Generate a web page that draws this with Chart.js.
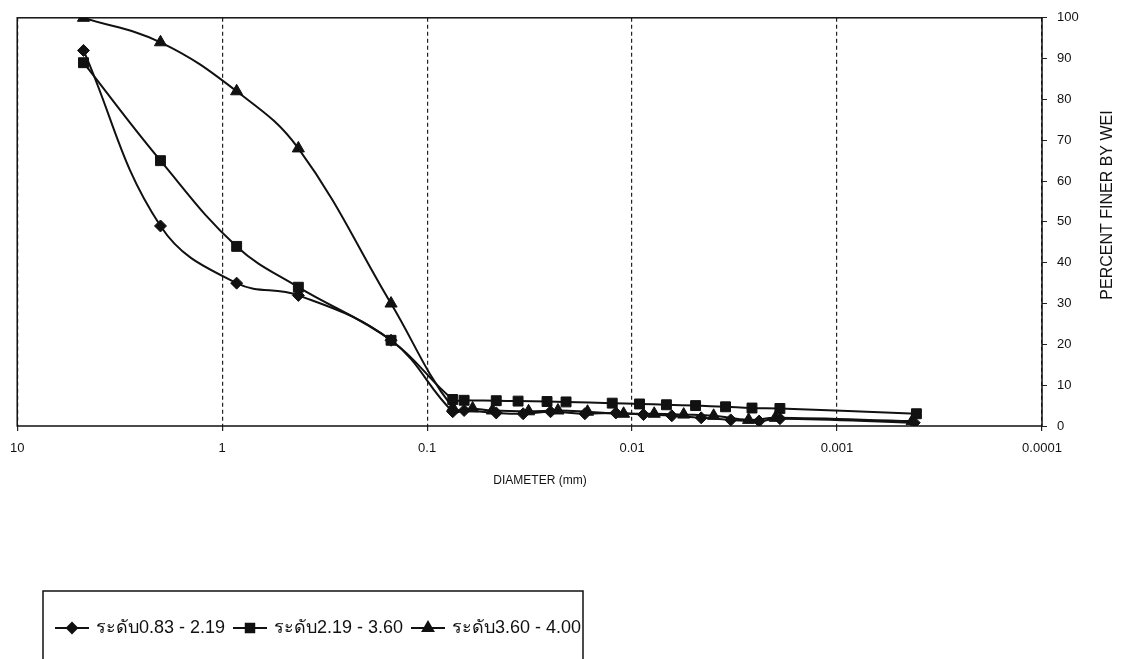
<!DOCTYPE html>
<html>
<head>
<meta charset="utf-8">
<script src="https://cdn.jsdelivr.net/npm/chart.js@4/dist/chart.umd.min.js"></script>
<style>
  html, body { margin: 0; padding: 0; background: #fff; overflow: hidden; }
  #wrap { position: relative; width: 1123px; height: 659px; }
</style>
</head>
<body>
<div id="wrap"><canvas id="c" width="1123" height="659"></canvas></div>
<script>
// Grain-size distribution: particle diameter (mm) vs percent finer by weight
const seriesNames = ['ระดับ0.83 - 2.19', 'ระดับ2.19 - 3.60', 'ระดับ3.60 - 4.00'];

const diam083 = [4.75, 2.0, 0.85, 0.425, 0.15, 0.075, 0.066, 0.046, 0.034, 0.025, 0.017, 0.012, 0.0088, 0.0064, 0.0046, 0.0033, 0.0024, 0.0019, 0.00042];
const pct083  = [92, 49, 35, 32, 21, 3.5, 3.8, 3.2, 3.0, 3.5, 3.0, 3.2, 2.8, 2.5, 2.0, 1.5, 1.2, 1.8, 0.8];

const diam219 = [4.75, 2.0, 0.85, 0.425, 0.15, 0.075, 0.066, 0.046, 0.036, 0.026, 0.021, 0.0125, 0.0092, 0.0068, 0.0049, 0.0035, 0.0026, 0.0019, 0.00041];
const pct219  = [89, 65, 44, 34, 21, 6.5, 6.3, 6.2, 6.1, 6.0, 5.9, 5.6, 5.4, 5.2, 5.0, 4.7, 4.4, 4.3, 3.0];

const diam360 = [4.75, 2.0, 0.85, 0.425, 0.15, 0.075, 0.060, 0.048, 0.032, 0.023, 0.0165, 0.011, 0.0078, 0.0056, 0.0040, 0.0027, 0.0020, 0.00043];
const pct360  = [100, 94, 82, 68, 30, 4.5, 4.3, 3.8, 3.6, 3.8, 3.5, 3.0, 3.0, 2.8, 2.5, 1.5, 2.0, 1.2];

const xTickValues = [10, 1, 0.1, 0.01, 0.001, 0.0001];
const xTickLabels = ['10', '1', '0.1', '0.01', '0.001', '0.0001'];

const xTitle = 'DIAMETER (mm)';
const yTitle = 'PERCENT FINER BY WEI';

const FONT = '"Liberation Sans", Arial, "DejaVu Sans", sans-serif';

function toPoints(xs, ys) {
  return xs.map((x, i) => ({ x: x, y: ys[i] }));
}

function lineSet(label, xs, ys, style, radius) {
  return {
    label: label,
    data: toPoints(xs, ys),
    showLine: true,
    borderColor: '#111',
    backgroundColor: '#111',
    borderWidth: 2,
    tension: 0.4,
    pointStyle: style,
    pointRadius: radius,
    pointHoverRadius: radius,
    pointBackgroundColor: '#111',
    pointBorderColor: '#111',
    pointBorderWidth: 1
  };
}

// Titles, plot frame and boxed legend
const decorations = {
  id: 'decorations',
  afterDraw(chart) {
    const ctx = chart.ctx;
    const a = chart.chartArea;
    ctx.save();
    // frame
    ctx.strokeStyle = '#111';
    ctx.lineWidth = 1.5;
    ctx.setLineDash([]);
    ctx.strokeRect(a.left, a.top, a.right - a.left, a.bottom - a.top);

    // x title
    ctx.fillStyle = '#111';
    ctx.font = '12px ' + FONT;
    ctx.textAlign = 'center';
    ctx.textBaseline = 'middle';
    ctx.fillText(xTitle, 540, 481);

    // y title (reads bottom to top)
    ctx.save();
    ctx.translate(1108, 205);
    ctx.rotate(-Math.PI / 2);
    ctx.font = '16px ' + FONT;
    ctx.fillText(yTitle, 0, 0);
    ctx.restore();

    // legend box
    const bx = 43, by = 591, bw = 540;
    ctx.lineWidth = 1.5;
    ctx.beginPath();
    ctx.moveTo(bx, chart.height + 5);
    ctx.lineTo(bx, by);
    ctx.lineTo(bx + bw, by);
    ctx.lineTo(bx + bw, chart.height + 5);
    ctx.stroke();

    const ly = 628;
    const sampleStarts = [55, 233, 411];
    ctx.font = '18px ' + FONT;
    ctx.textAlign = 'left';
    chart.data.datasets.forEach((ds, i) => {
      const x0 = sampleStarts[i];
      ctx.strokeStyle = '#111';
      ctx.lineWidth = 2;
      ctx.beginPath();
      ctx.moveTo(x0, ly);
      ctx.lineTo(x0 + 34, ly);
      ctx.stroke();
      ctx.fillStyle = '#111';
      Chart.helpers.drawPoint(ctx, {
        pointStyle: ds.pointStyle,
        radius: ds.pointRadius - 1,
        rotation: 0,
        borderWidth: 1
      }, x0 + 17, ly);
      ctx.fillStyle = '#111';
      ctx.fillText(ds.label, x0 + 41, ly);
    });
    ctx.restore();
  }
};

new Chart(document.getElementById('c'), {
  type: 'scatter',
  data: {
    datasets: [
      lineSet(seriesNames[0], diam083, pct083, 'rectRot', 6),
      lineSet(seriesNames[1], diam219, pct219, 'rect', 7),
      lineSet(seriesNames[2], diam360, pct360, 'triangle', 7)
    ]
  },
  options: {
    responsive: false,
    animation: false,
    devicePixelRatio: 1,
    layout: { padding: { left: 16, top: 14, right: 0, bottom: 0 } },
    plugins: {
      legend: { display: false },
      tooltip: { enabled: false }
    },
    scales: {
      x: {
        type: 'logarithmic',
        min: 0.0001,
        max: 10,
        reverse: true,
        position: 'bottom',
        afterBuildTicks(scale) {
          scale.ticks = xTickValues.map(v => ({ value: v }));
        },
        afterFit(scale) { scale.height = 233; },
        ticks: {
          autoSkip: false,
          maxRotation: 0,
          padding: 10,
          color: '#111',
          font: { family: FONT, size: 13 },
          callback(value) {
            const i = xTickValues.indexOf(value);
            return i >= 0 ? xTickLabels[i] : '';
          }
        },
        grid: {
          display: true,
          drawOnChartArea: true,
          drawTicks: true,
          tickLength: 5,
          color: '#222',
          lineWidth: 1.2
        },
        border: { display: false, dash: [4, 3] }
      },
      y: {
        position: 'right',
        min: 0,
        max: 100,
        afterFit(scale) { scale.width = 81; },
        ticks: {
          stepSize: 10,
          padding: 10,
          color: '#111',
          font: { family: FONT, size: 13 }
        },
        grid: {
          display: true,
          drawOnChartArea: false,
          drawTicks: true,
          tickLength: 5,
          color: '#222',
          lineWidth: 1
        },
        border: { display: false }
      }
    }
  },
  plugins: [decorations]
});
</script>
</body>
</html>
